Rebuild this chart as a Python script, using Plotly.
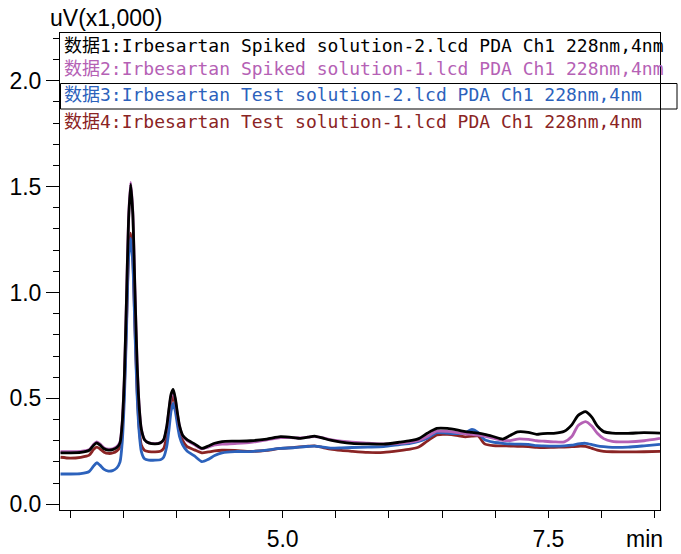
import plotly.graph_objects as go

# ---------------- data ----------------
time_min = [2.91, 3.00, 3.10, 3.18, 3.22, 3.25, 3.28, 3.32, 3.36, 3.40,
            3.44, 3.47, 3.49, 3.51, 3.53, 3.55, 3.57, 3.59, 3.61, 3.63,
            3.65, 3.67, 3.70, 3.74, 3.80, 3.85, 3.88, 3.91, 3.93, 3.95,
            3.97, 3.99, 4.01, 4.03, 4.06, 4.10, 4.17, 4.24, 4.30, 4.36,
            4.43, 4.55, 4.70, 4.85, 4.98, 5.10, 5.16, 5.24, 5.30, 5.38,
            5.45, 5.55, 5.65, 5.80, 5.95, 6.10, 6.20, 6.28, 6.36, 6.45,
            6.55, 6.65, 6.72, 6.78, 6.84, 6.90, 6.98, 7.07, 7.14, 7.21,
            7.31, 7.39, 7.45, 7.55, 7.65, 7.72, 7.78, 7.85, 7.91, 7.96,
            8.02, 8.10, 8.25, 8.40, 8.55]

spiked_2 = [0.243, 0.243, 0.245, 0.255, 0.278, 0.290, 0.280, 0.262, 0.256, 0.258,
            0.268, 0.290, 0.380, 0.590, 0.955, 1.340, 1.510, 1.370, 1.010, 0.670,
            0.460, 0.355, 0.305, 0.290, 0.285, 0.290, 0.305, 0.370, 0.450, 0.520,
            0.542, 0.500, 0.430, 0.370, 0.325, 0.305, 0.285, 0.264, 0.275, 0.288,
            0.296, 0.298, 0.300, 0.308, 0.319, 0.315, 0.311, 0.317, 0.322, 0.312,
            0.303, 0.294, 0.288, 0.285, 0.284, 0.293, 0.300, 0.310, 0.335, 0.358,
            0.358, 0.350, 0.343, 0.340, 0.336, 0.330, 0.320, 0.308, 0.325, 0.342,
            0.340, 0.330, 0.334, 0.335, 0.345, 0.375, 0.420, 0.437, 0.410, 0.370,
            0.343, 0.336, 0.335, 0.338, 0.336]

spiked_1 = [0.248, 0.248, 0.250, 0.258, 0.282, 0.295, 0.285, 0.266, 0.260, 0.262,
            0.272, 0.295, 0.385, 0.595, 0.960, 1.350, 1.520, 1.380, 1.015, 0.675,
            0.462, 0.355, 0.305, 0.290, 0.286, 0.290, 0.303, 0.365, 0.443, 0.510,
            0.532, 0.492, 0.424, 0.366, 0.322, 0.302, 0.281, 0.262, 0.270, 0.280,
            0.284, 0.287, 0.292, 0.304, 0.315, 0.314, 0.313, 0.317, 0.320, 0.313,
            0.305, 0.298, 0.293, 0.289, 0.285, 0.288, 0.294, 0.302, 0.320, 0.345,
            0.344, 0.338, 0.333, 0.330, 0.326, 0.322, 0.312, 0.302, 0.301, 0.308,
            0.306, 0.300, 0.298, 0.295, 0.295, 0.320, 0.372, 0.390, 0.368, 0.335,
            0.310, 0.297, 0.295, 0.300, 0.311]

test_2 = [0.143, 0.143, 0.145, 0.155, 0.180, 0.196, 0.185, 0.165, 0.157, 0.159,
          0.172, 0.200, 0.290, 0.490, 0.810, 1.160, 1.255, 1.140, 0.820, 0.520,
          0.340, 0.250, 0.215, 0.209, 0.208, 0.210, 0.222, 0.275, 0.350, 0.440,
          0.476, 0.440, 0.375, 0.320, 0.280, 0.252, 0.228, 0.201, 0.212, 0.230,
          0.243, 0.249, 0.249, 0.256, 0.264, 0.267, 0.270, 0.273, 0.275, 0.270,
          0.265, 0.266, 0.268, 0.270, 0.272, 0.282, 0.288, 0.297, 0.312, 0.338,
          0.336, 0.334, 0.338, 0.353, 0.338, 0.305, 0.293, 0.288, 0.285, 0.284,
          0.283, 0.277, 0.276, 0.275, 0.276, 0.279, 0.285, 0.288, 0.282, 0.276,
          0.272, 0.269, 0.270, 0.276, 0.283]

test_1 = [0.222, 0.218, 0.222, 0.232, 0.258, 0.270, 0.262, 0.246, 0.240, 0.242,
          0.252, 0.272, 0.360, 0.545, 0.845, 1.180, 1.280, 1.160, 0.840, 0.545,
          0.360, 0.280, 0.255, 0.249, 0.247, 0.250, 0.263, 0.325, 0.400, 0.480,
          0.508, 0.470, 0.405, 0.345, 0.300, 0.272, 0.257, 0.243, 0.247, 0.252,
          0.255, 0.254, 0.250, 0.255, 0.264, 0.268, 0.271, 0.274, 0.276, 0.268,
          0.260, 0.254, 0.250, 0.245, 0.245, 0.253, 0.260, 0.270, 0.298, 0.328,
          0.330, 0.324, 0.318, 0.322, 0.322, 0.285, 0.277, 0.276, 0.275, 0.274,
          0.272, 0.269, 0.268, 0.269, 0.270, 0.272, 0.274, 0.273, 0.264, 0.256,
          0.250, 0.248, 0.247, 0.248, 0.250]

series_names = ["数据1:Irbesartan Spiked solution-2.lcd PDA Ch1 228nm,4nm",
                "数据2:Irbesartan Spiked solution-1.lcd PDA Ch1 228nm,4nm",
                "数据3:Irbesartan Test solution-2.lcd PDA Ch1 228nm,4nm",
                "数据4:Irbesartan Test solution-1.lcd PDA Ch1 228nm,4nm"]
series_values = [spiked_2, spiked_1, test_2, test_1]
series_colors = ["#000000", "#B561B5", "#2C62BC", "#8A2424"]

y_major = [0.0, 0.5, 1.0, 1.5, 2.0]
y_labels = ["0.0", "0.5", "1.0", "1.5", "2.0"]
x_ticks = [3.0, 3.5, 4.0, 4.5, 5.0, 5.5, 6.0, 6.5, 7.0, 7.5, 8.0, 8.5]
x_labels = ["", "", "", "", "5.0", "", "", "", "", "7.5", "", ""]

# ---------------- figure ----------------
W, H = 681, 554
ML, MR, MT, MB = 60, 21, 33, 44
PW, PH = W - ML - MR, H - MT - MB


def px_x(p):
    return (p - ML) / PW


def px_y(p):
    return (H - MB - p) / PH


fig = go.Figure()
draw_order = [3, 2, 1, 0]
for i in draw_order:
    fig.add_trace(go.Scatter(
        x=time_min, y=series_values[i], mode="lines", name=series_names[i],
        line=dict(color=series_colors[i], width=2.8, shape="spline", smoothing=0.6),
        showlegend=False, hoverinfo="skip"))

tick_font = dict(family="Liberation Sans, Arial, sans-serif", size=23, color="#000000")
legend_font_family = "DejaVu Sans Mono, Noto Sans CJK SC, monospace"

fig.update_layout(
    width=W, height=H,
    margin=dict(l=ML, r=MR, t=MT, b=MB, pad=0, autoexpand=False),
    paper_bgcolor="white", plot_bgcolor="white",
    xaxis=dict(range=[2.905, 8.55], tickmode="array", tickvals=x_ticks, ticktext=x_labels,
               ticks="outside", ticklen=7, tickwidth=1, tickcolor="#000000",
               showline=True, linecolor="#000000", linewidth=1, mirror=True,
               showgrid=False, zeroline=False, tickfont=tick_font,
               ticklabelstandoff=1, automargin=False),
    yaxis=dict(range=[-0.027, 2.225], tickmode="array", tickvals=y_major, ticktext=y_labels,
               ticks="outside", ticklen=13, tickwidth=1, tickcolor="#000000",
               minor=dict(dtick=0.1, tick0=0, ticks="outside", ticklen=6,
                          tickcolor="#000000", tickwidth=1, showgrid=False),
               showline=True, linecolor="#000000", linewidth=1, mirror=True,
               showgrid=False, zeroline=False, tickfont=tick_font, automargin=False),
)

annotations = [
    dict(text="uV(x1,000)", x=px_x(48), y=px_y(18), xref="paper", yref="paper",
         xanchor="left", yanchor="middle", showarrow=False, font=tick_font),
    dict(text="min", x=px_x(644), y=px_y(539), xref="paper", yref="paper",
         xanchor="center", yanchor="middle", showarrow=False, font=tick_font),
]
legend_y = [45, 68.5, 94.5, 121]
for name, col, yy in zip(series_names, series_colors, legend_y):
    annotations.append(dict(text=name, x=px_x(62), y=px_y(yy), xref="paper", yref="paper",
                            xanchor="left", yanchor="middle", showarrow=False,
                            font=dict(family=legend_font_family, size=18, color=col)))
fig.update_layout(annotations=annotations)

# selection box around the third legend line
fig.add_shape(type="rect", xref="paper", yref="paper",
              x0=px_x(60.5), x1=px_x(677), y0=px_y(109), y1=px_y(83.5),
              line=dict(color="#000000", width=1), fillcolor="rgba(0,0,0,0)")

fig.write_html("out.html")
